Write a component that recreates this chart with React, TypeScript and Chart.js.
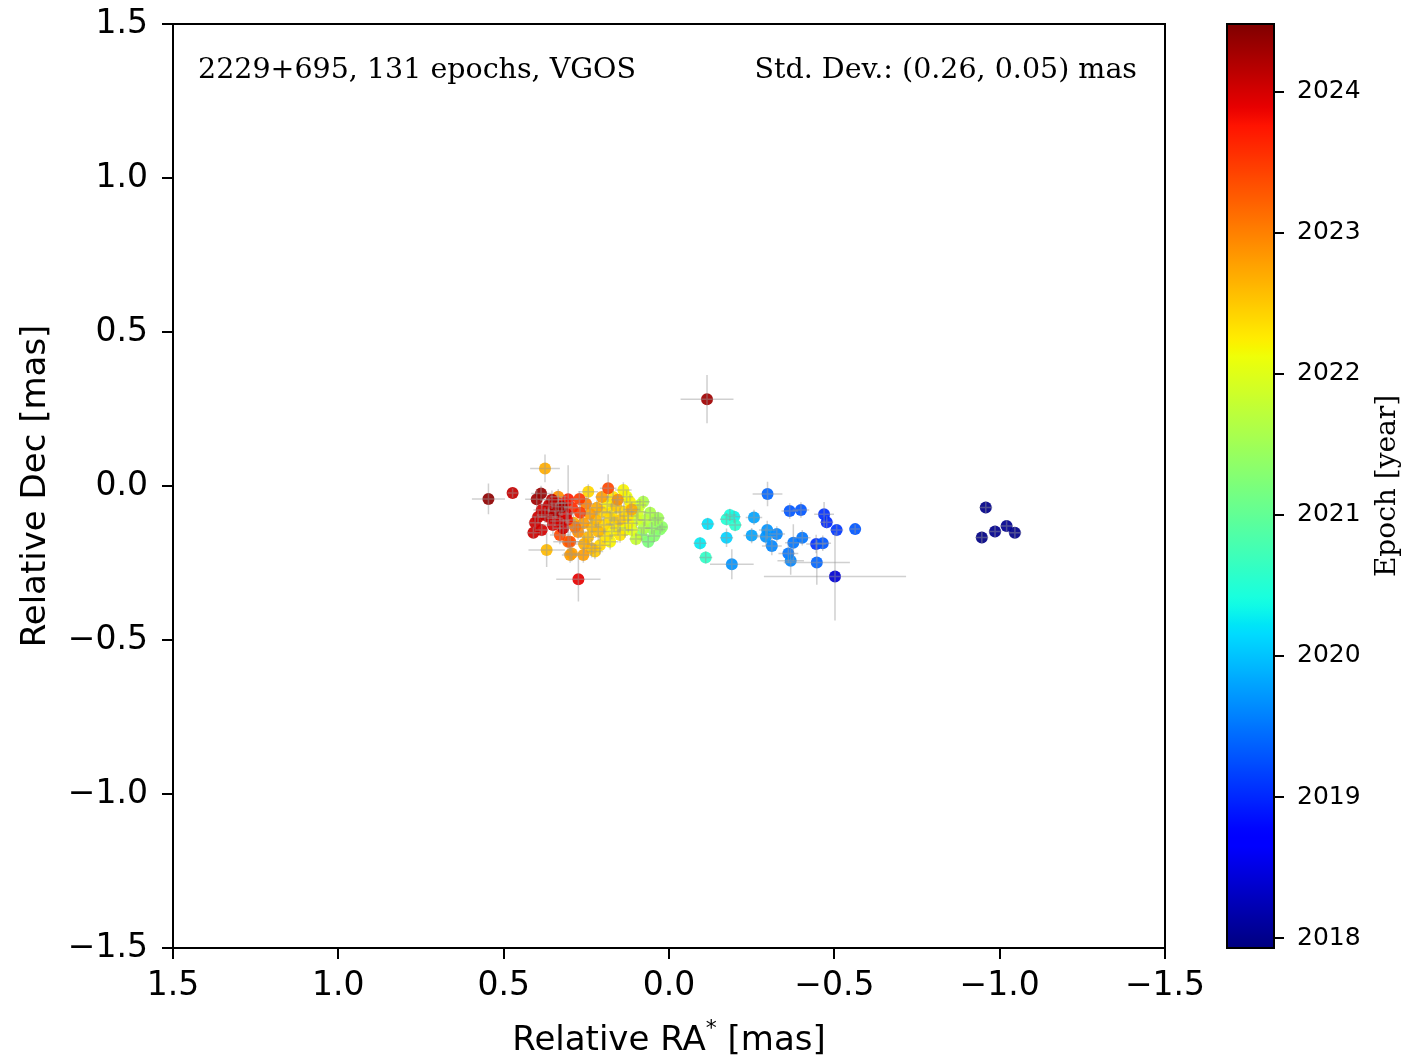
import React, { useEffect, useRef } from "react";
import { Chart, registerables } from "chart.js";
Chart.register(...registerables);

// Relative RA* [mas] (131 epochs)
const RA = [
  // main western cluster (2021-2024)
  0.546, 0.473, 0.387, 0.400, 0.375, 0.335, 0.305, 0.271, 0.335, 0.324,
  0.385, 0.365, 0.345, 0.405, 0.410, 0.385, 0.320, 0.370, 0.305, 0.299,
  0.274, 0.184, 0.244, 0.269, 0.155, 0.138, 0.128, 0.187, 0.078, 0.113,
  0.173, 0.148, 0.123, 0.098, 0.057, 0.042, 0.027, 0.083, 0.063, 0.052,
  0.173, 0.148, 0.259, 0.289, 0.214, 0.234, 0.259, 0.224, 0.178, 0.294,
  0.299, 0.363, 0.342, 0.311, 0.293, 0.251, 0.239, 0.221, 0.203, 0.197,
  0.166, 0.160, 0.136, 0.112, 0.094, 0.073, 0.033, 0.021, 0.076, 0.133,
  0.194, 0.209, 0.245, 0.275, 0.330, 0.284, 0.315, 0.354, 0.375, 0.396,
  0.330, 0.169, 0.118, 0.154, 0.100, 0.218, 0.257, 0.045, 0.124, 0.233,
  0.308, 0.203, 0.351, 0.088, 0.178,
  // eastern cluster (2018-2020)
  -0.298, -0.365, -0.399, -0.469, -0.477, -0.507, -0.563, -0.117, -0.184, -0.197,
  -0.174, -0.200, -0.257, -0.094, -0.111, -0.174, -0.250, -0.190, -0.297, -0.293,
  -0.326, -0.311, -0.376, -0.403, -0.361, -0.368, -0.445, -0.465, -0.447, -0.502,
  // earliest epochs
  -0.958, -0.946, -0.986, -1.021, -1.046,
  // outlier
  -0.115,
];

// Relative Dec [mas]
const DEC = [
  -0.042, -0.023, -0.024, -0.043, 0.057, -0.035, -0.043, -0.042, -0.056, -0.067,
  -0.078, -0.100, -0.105, -0.119, -0.152, -0.143, -0.137, -0.208, -0.181, -0.224,
  -0.303, -0.007, -0.019, -0.087, -0.045, -0.013, -0.035, -0.059, -0.051, -0.076,
  -0.087, -0.110, -0.121, -0.110, -0.087, -0.110, -0.141, -0.159, -0.181, -0.137,
  -0.148, -0.159, -0.121, -0.119, -0.148, -0.202, -0.224, -0.213, -0.181, -0.219,
  -0.181, -0.062, -0.081, -0.091, -0.071, -0.058, -0.091, -0.110, -0.084, -0.127,
  -0.123, -0.065, -0.084, -0.143, -0.084, -0.110, -0.104, -0.133, -0.136, -0.143,
  -0.162, -0.192, -0.166, -0.149, -0.159, -0.133, -0.055, -0.045, -0.094, -0.101,
  -0.114, -0.036, -0.052, -0.136, -0.172, -0.071, -0.188, -0.162, -0.097, -0.133,
  -0.110, -0.036, -0.127, -0.062, -0.104,
  -0.026, -0.081, -0.078, -0.092, -0.118, -0.143, -0.140, -0.123, -0.094, -0.100,
  -0.108, -0.127, -0.102, -0.186, -0.232, -0.168, -0.161, -0.254, -0.143, -0.165,
  -0.156, -0.195, -0.184, -0.168, -0.219, -0.243, -0.188, -0.186, -0.248, -0.294,
  -0.070, -0.167, -0.148, -0.130, -0.152,
  0.282,
];

// 1-sigma uncertainties [mas]
const ERR_RA = [
  0.050, 0.015, 0.030, 0.035, 0.045, 0.025, 0.030, 0.025, 0.025, 0.030,
  0.025, 0.030, 0.025, 0.020, 0.020, 0.020, 0.030, 0.055, 0.045, 0.025,
  0.067, 0.025, 0.030, 0.030, 0.020, 0.025, 0.020, 0.025, 0.020, 0.025,
  0.030, 0.035, 0.030, 0.025, 0.020, 0.020, 0.015, 0.020, 0.020, 0.020,
  0.025, 0.025, 0.025, 0.025, 0.025, 0.030, 0.025, 0.025, 0.025, 0.025,
  0.030, 0.025, 0.025, 0.025, 0.025, 0.025, 0.030, 0.025, 0.025, 0.030,
  0.025, 0.025, 0.030, 0.020, 0.025, 0.020, 0.020, 0.015, 0.020, 0.025,
  0.025, 0.030, 0.025, 0.025, 0.030, 0.025, 0.025, 0.030, 0.025, 0.020,
  0.030, 0.020, 0.025, 0.025, 0.020, 0.025, 0.030, 0.020, 0.025, 0.030,
  0.025, 0.020, 0.030, 0.020, 0.025,
  0.045, 0.025, 0.025, 0.030, 0.020, 0.020, 0.015, 0.020, 0.020, 0.020,
  0.020, 0.020, 0.025, 0.020, 0.020, 0.020, 0.025, 0.066, 0.025, 0.030,
  0.025, 0.030, 0.025, 0.025, 0.030, 0.040, 0.030, 0.025, 0.100, 0.215,
  0.020, 0.020, 0.020, 0.020, 0.020,
  0.080,
];

const ERR_DEC = [
  0.050, 0.015, 0.025, 0.030, 0.045, 0.025, 0.110, 0.025, 0.025, 0.030,
  0.025, 0.030, 0.025, 0.020, 0.020, 0.020, 0.030, 0.055, 0.030, 0.025,
  0.072, 0.045, 0.025, 0.030, 0.020, 0.025, 0.020, 0.025, 0.020, 0.025,
  0.030, 0.040, 0.030, 0.025, 0.020, 0.020, 0.015, 0.020, 0.020, 0.020,
  0.025, 0.025, 0.025, 0.025, 0.030, 0.030, 0.025, 0.025, 0.025, 0.025,
  0.030, 0.025, 0.025, 0.025, 0.025, 0.025, 0.030, 0.025, 0.025, 0.030,
  0.025, 0.025, 0.030, 0.020, 0.025, 0.020, 0.020, 0.015, 0.020, 0.025,
  0.025, 0.030, 0.025, 0.025, 0.030, 0.025, 0.025, 0.030, 0.025, 0.020,
  0.030, 0.020, 0.025, 0.025, 0.020, 0.025, 0.030, 0.020, 0.025, 0.030,
  0.025, 0.020, 0.030, 0.020, 0.025,
  0.040, 0.025, 0.025, 0.040, 0.020, 0.020, 0.015, 0.020, 0.020, 0.020,
  0.020, 0.020, 0.025, 0.020, 0.020, 0.030, 0.025, 0.049, 0.030, 0.030,
  0.025, 0.030, 0.060, 0.025, 0.030, 0.045, 0.030, 0.025, 0.073, 0.143,
  0.020, 0.020, 0.020, 0.020, 0.020,
  0.078,
];

// Epoch [year]
const EPOCH = [
  2024.4, 2024.1, 2024.35, 2024.3, 2022.7, 2022.9, 2023.7, 2023.5, 2023.8, 2024.25,
  2024.0, 2024.0, 2023.9, 2024.05, 2024.05, 2024.0, 2024.05, 2022.6, 2023.2, 2022.8,
  2023.9, 2023.4, 2022.4, 2023.5, 2022.9, 2022.2, 2022.1, 2022.2, 2021.6, 2022.7,
  2022.3, 2022.5, 2022.2, 2021.9, 2021.6, 2021.5, 2021.3, 2021.3, 2021.2, 2021.4,
  2022.2, 2022.3, 2022.8, 2022.7, 2022.6, 2022.6, 2022.8, 2022.5, 2022.2, 2022.8,
  2023.3, 2024.1, 2024.2, 2023.95, 2023.6, 2023.0, 2022.8, 2022.6, 2022.4, 2022.4,
  2022.3, 2022.5, 2022.4, 2022.0, 2021.9, 2021.7, 2021.5, 2021.35, 2021.6, 2022.1,
  2022.3, 2022.4, 2022.6, 2022.9, 2023.4, 2023.1, 2023.8, 2024.15, 2024.1, 2024.05,
  2024.0, 2022.3, 2022.2, 2022.1, 2021.8, 2022.7, 2022.7, 2021.3, 2022.3, 2022.6,
  2023.8, 2022.8, 2024.0, 2021.8, 2022.4,
  2019.4, 2019.3, 2019.3, 2019.05, 2019.0, 2019.1, 2019.3, 2020.2, 2020.4, 2020.3,
  2020.5, 2020.55, 2019.8, 2020.25, 2020.6, 2020.1, 2019.8, 2019.7, 2019.7, 2019.7,
  2019.6, 2019.6, 2019.5, 2019.5, 2019.5, 2019.6, 2019.05, 2019.3, 2019.4, 2018.4,
  2017.98, 2017.95, 2018.0, 2018.02, 2017.97,
  2024.3,
];

const AXIS_TICKS = [-1.5, -1.0, -0.5, 0.0, 0.5, 1.0, 1.5];
const YEAR_TICKS = [2018, 2019, 2020, 2021, 2022, 2023, 2024];
const EPOCH_MIN = 2017.93;
const EPOCH_MAX = 2024.48;

const LABEL_LEFT = "2229+695, 131 epochs, VGOS";
const LABEL_RIGHT = "Std. Dev.: (0.26, 0.05) mas";
const X_TITLE = ["Relative RA", "*", " [mas]"];
const Y_TITLE = "Relative Dec [mas]";
const CB_TITLE = "Epoch [year]";

// matplotlib "jet" colormap segments
const JET_R = [[0, 0], [0.35, 0], [0.66, 1], [0.89, 1], [1, 0.5]];
const JET_G = [[0, 0], [0.125, 0], [0.375, 1], [0.64, 1], [0.91, 0], [1, 0]];
const JET_B = [[0, 0.5], [0.11, 1], [0.34, 1], [0.65, 0], [1, 0]];

function seg(s: number[][], v: number): number {
  for (let i = 1; i < s.length; i++) {
    if (v <= s[i][0]) {
      const [x0, y0] = s[i - 1];
      const [x1, y1] = s[i];
      return y0 + ((y1 - y0) * (v - x0)) / (x1 - x0);
    }
  }
  return s[s.length - 1][1];
}
function jet(v: number, a = 1): string {
  const t = Math.min(1, Math.max(0, v));
  const r = Math.round(255 * seg(JET_R, t));
  const g = Math.round(255 * seg(JET_G, t));
  const b = Math.round(255 * seg(JET_B, t));
  return `rgba(${r},${g},${b},${a})`;
}
const epochColor = (e: number, a = 1) => jet((e - EPOCH_MIN) / (EPOCH_MAX - EPOCH_MIN), a);

const fmt = (v: number) => {
  const n = Math.abs(v) < 1e-9 ? 0 : v;
  return n.toFixed(1).replace("-", "\u2212");
};

const SANS = '"DejaVu Sans", sans-serif';
const SERIF = '"DejaVu Serif", serif';

const noPad = (s: any) => {
  s.paddingTop = 0;
  s.paddingBottom = 0;
  s.paddingLeft = 0;
  s.paddingRight = 0;
};

const decorPlugin = {
  id: "decor",
  afterDatasetsDraw(chart: any) {
    const { ctx } = chart;
    const xs = chart.scales.x;
    const ys = chart.scales.y;
    ctx.save();
    ctx.strokeStyle = "rgba(150,150,150,0.45)";
    ctx.lineWidth = 1.5;
    for (let i = 0; i < RA.length; i++) {
      const px = xs.getPixelForValue(RA[i]);
      const py = ys.getPixelForValue(DEC[i]);
      const x1 = xs.getPixelForValue(RA[i] - ERR_RA[i]);
      const x2 = xs.getPixelForValue(RA[i] + ERR_RA[i]);
      const y1 = ys.getPixelForValue(DEC[i] - ERR_DEC[i]);
      const y2 = ys.getPixelForValue(DEC[i] + ERR_DEC[i]);
      ctx.beginPath();
      ctx.moveTo(x1, py);
      ctx.lineTo(x2, py);
      ctx.moveTo(px, y1);
      ctx.lineTo(px, y2);
      ctx.stroke();
    }
    ctx.restore();
  },
  afterDraw(chart: any) {
    const { ctx, chartArea } = chart;
    const cb = chart.scales.cb;
    ctx.save();
    // frame
    ctx.strokeStyle = "#000";
    ctx.lineWidth = 2;
    ctx.strokeRect(chartArea.left, chartArea.top, chartArea.right - chartArea.left, chartArea.bottom - chartArea.top);

    // colorbar
    const cbW = 47;
    const cx = cb.left - cbW;
    const grad = ctx.createLinearGradient(0, cb.bottom, 0, cb.top);
    for (let k = 0; k <= 100; k++) grad.addColorStop(k / 100, jet(k / 100));
    ctx.fillStyle = grad;
    ctx.fillRect(cx, cb.top, cbW, cb.bottom - cb.top);
    ctx.strokeRect(cx, cb.top, cbW, cb.bottom - cb.top);

    // annotations
    ctx.fillStyle = "#000";
    ctx.font = `28.5px ${SERIF}`;
    ctx.textBaseline = "alphabetic";
    ctx.textAlign = "left";
    ctx.fillText(LABEL_LEFT, chartArea.left + 25, chartArea.top + 54);
    ctx.textAlign = "right";
    ctx.fillText(LABEL_RIGHT, chartArea.right - 28, chartArea.top + 54);

    // x title with superscript asterisk
    const big = `34px ${SANS}`;
    const small = `22px ${SANS}`;
    ctx.textAlign = "left";
    ctx.font = big;
    const w1 = ctx.measureText(X_TITLE[0]).width;
    const w3 = ctx.measureText(X_TITLE[2]).width;
    ctx.font = small;
    const w2 = ctx.measureText(X_TITLE[1]).width;
    const cxm = (chartArea.left + chartArea.right) / 2;
    let tx = cxm - (w1 + w2 + w3) / 2;
    const by = 1050;
    ctx.font = big;
    ctx.fillText(X_TITLE[0], tx, by);
    tx += w1;
    ctx.font = small;
    ctx.fillText(X_TITLE[1], tx, by - 15);
    tx += w2;
    ctx.font = big;
    ctx.fillText(X_TITLE[2], tx, by);

    // y title
    ctx.save();
    ctx.translate(45, (chartArea.top + chartArea.bottom) / 2);
    ctx.rotate(-Math.PI / 2);
    ctx.textAlign = "center";
    ctx.font = big;
    ctx.fillText(Y_TITLE, 0, 0);
    ctx.restore();

    // colorbar title
    ctx.save();
    ctx.translate(1395, (cb.top + cb.bottom) / 2);
    ctx.rotate(-Math.PI / 2);
    ctx.textAlign = "center";
    ctx.font = `28px ${SERIF}`;
    ctx.fillText(CB_TITLE, 0, 0);
    ctx.restore();

    ctx.restore();
  },
};

export default function App() {
  const ref = useRef<HTMLCanvasElement>(null);

  useEffect(() => {
    const order = EPOCH.map((_, i) => i).sort((a, b) => EPOCH[a] - EPOCH[b]);
    const points = order.map((i) => ({ x: RA[i], y: DEC[i] }));
    const colors = order.map((i) => epochColor(EPOCH[i], 0.92));

    const chart = new Chart(ref.current as HTMLCanvasElement, {
      type: "scatter",
      data: {
        datasets: [
          {
            data: points,
            pointBackgroundColor: colors,
            pointBorderWidth: 0,
            pointBorderColor: "rgba(0,0,0,0)",
            pointRadius: 6,
          },
        ],
      },
      options: {
        responsive: false,
        maintainAspectRatio: false,
        animation: false,
        devicePixelRatio: 1,
        events: [],
        layout: { padding: { top: 24, left: 0, right: 0, bottom: 0 } },
        plugins: { legend: { display: false }, tooltip: { enabled: false } },
        scales: {
          x: {
            type: "linear",
            reverse: true,
            min: -1.5,
            max: 1.5,
            afterBuildTicks: (s: any) => {
              s.ticks = AXIS_TICKS.map((v) => ({ value: v }));
            },
            afterFit: (s: any) => {
              s.height = 111;
              noPad(s);
            },
            grid: { drawOnChartArea: false, drawTicks: true, tickLength: 11, color: "#000", lineWidth: 2 },
            border: { display: true, color: "#000", width: 2 },
            ticks: {
              padding: 8,
              color: "#000",
              font: { family: SANS, size: 33 },
              maxRotation: 0,
              callback: (v: any) => fmt(Number(v)),
            },
          },
          y: {
            type: "linear",
            position: "left",
            min: -1.5,
            max: 1.5,
            afterBuildTicks: (s: any) => {
              s.ticks = AXIS_TICKS.map((v) => ({ value: v }));
            },
            afterFit: (s: any) => {
              s.width = 173;
              noPad(s);
            },
            grid: { drawOnChartArea: false, drawTicks: true, tickLength: 11, color: "#000", lineWidth: 2 },
            border: { display: true, color: "#000", width: 2 },
            ticks: {
              padding: 14,
              color: "#000",
              font: { family: SANS, size: 33 },
              callback: (v: any) => fmt(Number(v)),
            },
          },
          spacer: {
            type: "linear",
            axis: "y",
            position: "right",
            weight: 1,
            min: 0,
            max: 1,
            afterFit: (s: any) => {
              s.width = 109;
              noPad(s);
            },
            grid: { display: false, drawTicks: false },
            border: { display: false },
            ticks: { display: false },
          },
          cb: {
            type: "linear",
            axis: "y",
            position: "right",
            weight: 2,
            min: EPOCH_MIN,
            max: EPOCH_MAX,
            afterBuildTicks: (s: any) => {
              s.ticks = YEAR_TICKS.map((v) => ({ value: v }));
            },
            afterFit: (s: any) => {
              s.width = 132;
              noPad(s);
            },
            grid: { drawOnChartArea: false, drawTicks: true, tickLength: 10, color: "#000", lineWidth: 2 },
            border: { display: false },
            ticks: {
              padding: 13,
              color: "#000",
              font: { family: SANS, size: 25 },
              callback: (v: any) => String(v),
            },
          },
        },
      } as any,
      plugins: [decorPlugin],
    });
    return () => chart.destroy();
  }, []);

  return (
    <div style={{ position: "fixed", left: 0, top: 0, width: 1406, height: 1059, background: "#fff" }}>
      <canvas ref={ref} width={1406} height={1059} style={{ display: "block", width: 1406, height: 1059 }} />
    </div>
  );
}
